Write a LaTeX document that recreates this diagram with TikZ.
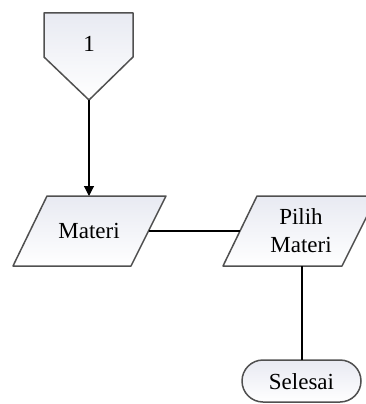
\documentclass[tikz,border=0pt]{standalone}
\usepackage{fontspec}
\setmainfont{Liberation Serif}
\usetikzlibrary{arrows.meta}
\definecolor{shapeedge}{RGB}{80,80,80}
\definecolor{shapetop}{RGB}{232,234,242}
\tikzset{
  shapebox/.style={draw=shapeedge, line width=1.5pt, top color=shapetop, bottom color=white, line join=round},
  lbl/.style={font=\fontsize{23}{28}\selectfont, inner sep=0pt, align=center},
  conn/.style={draw=black, line width=1.1pt},
}
\begin{document}
\begin{tikzpicture}[x=1pt,y=-1pt]
\useasboundingbox (0,0) rectangle (365,404);
% off-page connector
\path[shapebox] (44,13) -- (133,13) -- (133,57) -- (89,100) -- (44,57) -- cycle;
\node[lbl] (one) at (89,44) {1};
\coordinate (onetip) at (89,100);
% Materi
\path[shapebox] (47,196) -- (166,196) -- (131,266) -- (13,266) -- cycle;
\node[lbl] (materi) at (89,231) {Materi};
\coordinate (materitop) at (89,196);
\coordinate (materiright) at (148.5,231);
% Pilih Materi
\path[shapebox] (257,196) -- (377,196) -- (342,266) -- (223,266) -- cycle;
\node[lbl] (pilih) at (301,231) {Pilih\\Materi};
\coordinate (pilihleft) at (240,231);
\coordinate (pilihbottom) at (302,266);
% Selesai
\path[shapebox, rounded corners=21pt] (242,360) rectangle (361,402);
\node[lbl] (selesai) at (301.5,382) {Selesai};
\coordinate (selesaitop) at (302,360);
% connectors
\draw[conn, -{Triangle[length=10pt,width=10pt]}] (onetip) -- (materitop);
\draw[conn] (materiright) -- (pilihleft);
\draw[conn] (pilihbottom) -- (selesaitop);
\end{tikzpicture}
\end{document}
